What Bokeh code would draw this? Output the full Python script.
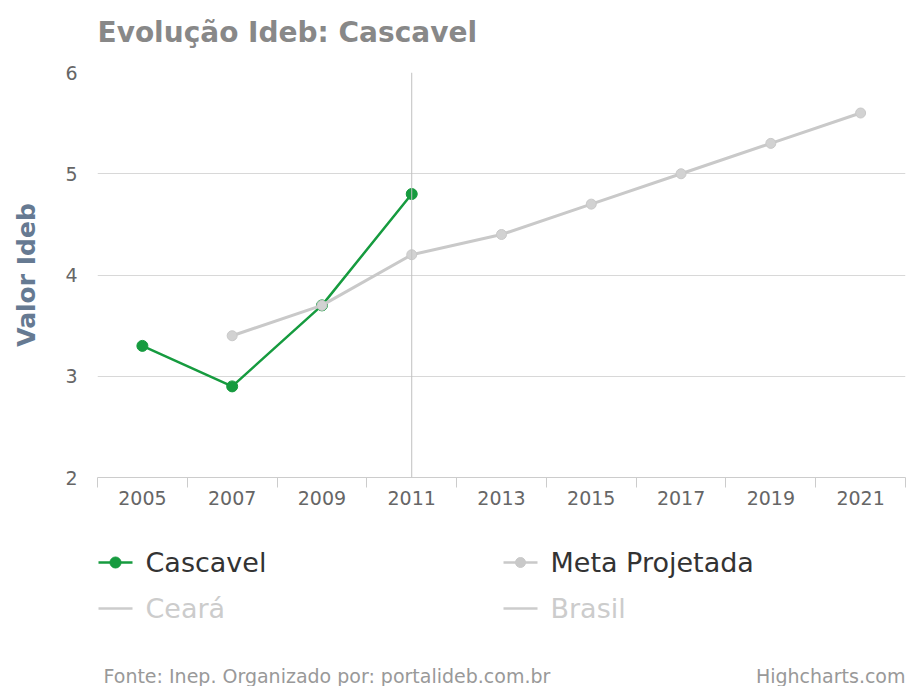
from bokeh.plotting import figure
from bokeh.models import Range1d, FixedTicker, Span
from bokeh.layouts import column
from bokeh.core.properties import value
from bokeh.embed import file_html
from bokeh.resources import INLINE

# ---- data ----
years = ["2005", "2007", "2009", "2011", "2013", "2015", "2017", "2019", "2021"]
cascavel_years = ["2005", "2007", "2009", "2011"]
cascavel_values = [3.3, 2.9, 3.7, 4.8]
meta_years = ["2007", "2009", "2011", "2013", "2015", "2017", "2019", "2021"]
meta_values = [3.4, 3.7, 4.2, 4.4, 4.7, 5.0, 5.3, 5.6]
y_ticks = [2, 3, 4, 5, 6]
highlight_year = "2011"
title_text = "Evolução Ideb: Cascavel"
y_title = "Valor Ideb"
legend_names = ["Cascavel", "Meta Projetada", "Ceará", "Brasil"]
credit_left = "Fonte: Inep. Organizado por: portalideb.com.br"
credit_right = "Highcharts.com"

# ---- styles ----
FONT = "DejaVu Sans"
GREEN = "#169b3f"
GRAY = "#c9c9c9"
HIDDEN = "#cccccc"
W = 915
LEFT, RIGHT = 97, 10


def xpos(year):
    return years.index(year) + 0.5


def panel(height):
    """A plain panel whose data units are pixels (x across, y downwards)."""
    f = figure(width=W, height=height, x_range=Range1d(LEFT, W - RIGHT),
               y_range=Range1d(height, 0), x_axis_type=None, y_axis_type=None,
               output_backend="svg", toolbar_location=None,
               min_border_left=LEFT, min_border_right=RIGHT,
               min_border_top=0, min_border_bottom=0)
    f.outline_line_color = None
    f.background_fill_color = "white"
    f.border_fill_color = "white"
    return f


# ---- title panel ----
HT = 56
t = panel(HT)
t.text(x=[LEFT], y=[32], text=[title_text], text_font=value(FONT), text_font_size="28px",
       text_font_style="bold", text_baseline="middle", text_color="#888888")

# ---- main chart ----
p = figure(width=W, height=520 - HT,
           x_range=Range1d(0, len(years)), y_range=Range1d(min(y_ticks), max(y_ticks)),
           output_backend="svg", toolbar_location=None,
           min_border_left=LEFT, min_border_right=RIGHT, min_border_top=16, min_border_bottom=43)
p.outline_line_color = None
p.background_fill_color = "white"
p.border_fill_color = "white"

# x axis
p.xaxis.ticker = FixedTicker(ticks=[xpos(y) for y in years],
                             minor_ticks=list(range(len(years) + 1)))
p.xaxis.major_label_overrides = {xpos(y): y for y in years}
p.xaxis.major_tick_in = 0
p.xaxis.major_tick_out = 0
p.xaxis.minor_tick_in = 0
p.xaxis.minor_tick_out = 10
p.xaxis.minor_tick_line_color = "#cccccc"
p.xaxis.axis_line_color = "#cccccc"
p.xaxis.major_label_text_font = FONT
p.xaxis.major_label_text_font_size = "19px"
p.xaxis.major_label_text_color = "#666666"
p.xaxis.major_label_standoff = 3

# y axis
p.yaxis.ticker = FixedTicker(ticks=y_ticks)
p.yaxis.axis_line_color = None
p.yaxis.major_tick_line_color = None
p.yaxis.minor_tick_line_color = None
p.yaxis.major_label_text_font = FONT
p.yaxis.major_label_text_font_size = "19px"
p.yaxis.major_label_text_color = "#666666"
p.yaxis.major_label_standoff = 14
p.yaxis.axis_label = y_title
p.yaxis.axis_label_text_font = FONT
p.yaxis.axis_label_text_font_size = "25px"
p.yaxis.axis_label_text_font_style = "bold"
p.yaxis.axis_label_text_color = "#667a92"
p.yaxis.axis_label_standoff = 21

p.xgrid.visible = False
p.ygrid.ticker = FixedTicker(ticks=y_ticks)
p.ygrid.grid_line_color = "#d8d8d8"
p.ygrid.grid_line_width = 1

p.add_layout(Span(location=xpos(highlight_year), dimension="height",
                  line_color="#c0c0c0", line_width=1))

cx = [xpos(y) for y in cascavel_years]
mx = [xpos(y) for y in meta_years]
p.line(cx, cascavel_values, line_color=GREEN, line_width=2.5)
p.scatter(cx, cascavel_values, size=11, fill_color=GREEN, line_color=GREEN)
p.line(mx, meta_values, line_color=GRAY, line_width=3)
p.scatter(mx, meta_values, size=10, fill_color="#d2d2d2", line_color=GRAY)

# ---- legend + credits panel ----
H2 = 686 - 520
q = panel(H2)
rows = [42, 42, 88, 88]
cols = [98, 503, 98, 503]
colors = [GREEN, GRAY, HIDDEN, HIDDEN]
text_colors = ["#333333", "#333333", HIDDEN, HIDDEN]
for i, name in enumerate(legend_names):
    x0 = cols[i]
    yy = rows[i]
    q.segment(x0=[x0], y0=[yy], x1=[x0 + 34], y1=[yy], line_color=colors[i], line_width=2.5)
    if i < 2:
        q.scatter([x0 + 17], [yy], size=11 if i == 0 else 10,
                  fill_color=colors[i], line_color=colors[i])
    q.text(x=[x0 + 47], y=[yy], text=[name], text_font=value(FONT),
           text_font_size="27px", text_baseline="middle", text_color=text_colors[i])

q.text(x=[103], y=[155], text=[credit_left], text_font=value(FONT), text_font_size="19px",
       text_baseline="middle", text_color="#999999")
q.text(x=[W - RIGHT], y=[155], text=[credit_right], text_font=value(FONT), text_font_size="19px",
       text_baseline="middle", text_align="right", text_color="#999999")

layout = column(t, p, q, spacing=0)
open("out.html", "w").write(file_html(layout, INLINE))
